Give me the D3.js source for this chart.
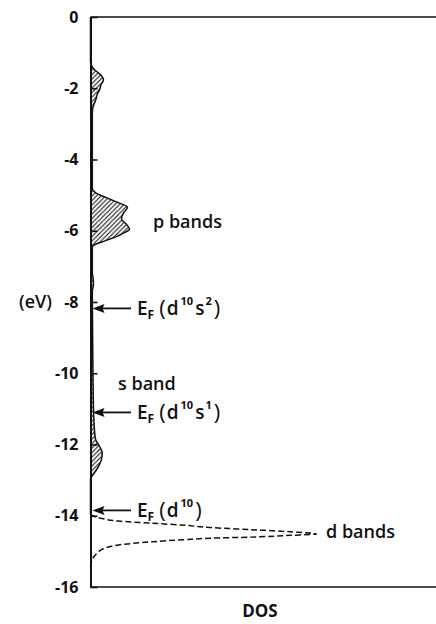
<!DOCTYPE html>
<html>
<head>
<meta charset="utf-8">
<script src="https://cdn.jsdelivr.net/npm/d3@7"></script>
<style>
  html, body { margin: 0; padding: 0; background: #fff; }
  svg { display: block; }
  text { font-family: "Open Sans", Lato, sans-serif; font-weight: 600; fill: #111; }
</style>
</head>
<body>
<svg id="chart" width="436" height="624"></svg>
<script>
// Energy axis ticks (eV)
const tickValues = [0, -2, -4, -6, -8, -10, -12, -14, -16];

// Occupied s/p density of states (hatched), energy in eV vs DOS in arbitrary units
const valenceE = [0, -1.25, -1.32, -1.45, -1.55, -1.65, -1.77, -1.9, -2.05, -2.15, -2.3, -2.45, -2.6, -2.8,
  -4.8, -4.88, -4.95, -5.05, -5.17, -5.34, -5.5, -5.67, -5.82, -5.96, -6.08, -6.15, -6.29, -6.38, -6.45,
  -7.2, -7.3, -7.5, -7.7, -8.5, -10, -11, -11.6, -11.85, -12.05, -12.23, -12.42, -12.6, -12.75, -12.88, -12.95, -13.96];
const valenceDOS = [0, 0, 0.05, 0.3, 0.7, 1.1, 1.3, 1.05, 0.9, 0.7, 0.55, 0.35, 0.2, 0.18,
  0.18, 0.3, 0.6, 1.4, 2.4, 3.7, 3.3, 3.1, 3.6, 3.9, 3.2, 2.7, 1.4, 0.5, 0.18,
  0.18, 0.25, 0.3, 0.18, 0.2, 0.25, 0.3, 0.4, 0.5, 0.9, 1.17, 1.1, 0.83, 0.5, 0.17, 0, 0];

// d-band density of states (dashed)
const dBandE = [-13.96, -14.02, -14.08, -14.15, -14.21, -14.27, -14.33, -14.39, -14.45, -14.51,
  -14.55, -14.6, -14.63, -14.67, -14.73, -14.82, -14.9, -15.05, -15.24, -15.45];
const dBandDOS = [0, 0.4, 1.17, 2.8, 6.2, 9.5, 12, 16, 20, 22.6,
  20, 16, 12, 9.5, 6.2, 2.8, 1.5, 0.67, 0.17, 0];

// Fermi levels for the three configurations
const fermiE = [-8.18, -11.1, -13.85];
const fermiSup = [["10", "2"], ["10", "1"], ["10"]];

const svg = d3.select("#chart");

const y = d3.scaleLinear().domain([0, -16]).range([17, 587]);
const x = d3.scaleLinear().domain([0, 34.6]).range([90.5, 436.5]);

// hatch pattern
const defs = svg.append("defs");
const pat = defs.append("pattern")
  .attr("id", "hatch").attr("patternUnits", "userSpaceOnUse")
  .attr("width", 4.5).attr("height", 4.5);
pat.append("path")
  .attr("d", "M0,4.5 L4.5,0 M-1,1 L1,-1 M3.5,5.5 L5.5,3.5")
  .attr("stroke", "#111").attr("stroke-width", 1.1);

// frame: top and bottom edges
svg.append("line").attr("x1", x(0)).attr("x2", 436).attr("y1", y(0)).attr("y2", y(0))
  .attr("stroke", "#111").attr("stroke-width", 1.6);
svg.append("line").attr("x1", x(0)).attr("x2", 436).attr("y1", y(-16)).attr("y2", y(-16))
  .attr("stroke", "#111").attr("stroke-width", 1.6);

// energy axis
const axis = d3.axisLeft(y).tickValues(tickValues).tickSizeInner(-7).tickSizeOuter(0)
  .tickPadding(12).tickFormat(d => d === 0 ? "0" : "-" + Math.abs(d));
const gAxis = svg.append("g").attr("transform", `translate(${x(0)},0)`).call(axis);
gAxis.select(".domain").attr("stroke", "#111").attr("stroke-width", 2);
gAxis.selectAll(".tick line").attr("stroke", "#111").attr("stroke-width", 1.6);
gAxis.selectAll(".tick text")
  .style("font-family", "'Open Sans', Lato, sans-serif")
  .style("font-size", "16px").style("font-weight", "700").attr("fill", "#111");

// hatched s/p DOS
const valence = valenceE.map((e, i) => ({ e, d: valenceDOS[i] }));
const area = d3.area().curve(d3.curveMonotoneY)
  .y(p => y(p.e)).x0(x(0)).x1(p => x(p.d));
const line = d3.line().curve(d3.curveMonotoneY).y(p => y(p.e)).x(p => x(p.d));
svg.append("path").datum(valence).attr("d", area).attr("fill", "url(#hatch)");
svg.append("path").datum(valence).attr("d", line)
  .attr("fill", "none").attr("stroke", "#111").attr("stroke-width", 1.5);

// dashed d-band DOS
const dBand = dBandE.map((e, i) => ({ e, d: dBandDOS[i] }));
svg.append("path").datum(dBand).attr("d", line)
  .attr("fill", "none").attr("stroke", "#111").attr("stroke-width", 1.5)
  .attr("stroke-dasharray", "6,3");

// Fermi-level arrows and labels
fermiE.forEach((e, i) => {
  const yy = y(e);
  const tip = x(0) + 2;
  svg.append("line").attr("x1", tip + 8).attr("x2", 131).attr("y1", yy).attr("y2", yy)
    .attr("stroke", "#111").attr("stroke-width", 1.8);
  svg.append("path")
    .attr("d", `M${tip},${yy} L${tip + 12},${yy - 4.5} L${tip + 10},${yy} L${tip + 12},${yy + 4.5} Z`)
    .attr("fill", "#111");

  const t = svg.append("text").attr("x", 137).attr("y", yy + 7).style("font-size", "19px");
  t.append("tspan").text("E");
  t.append("tspan").attr("dy", 4).style("font-size", "12px").style("font-weight", "700").text("F");
  t.append("tspan").attr("dx", 5).attr("dy", -3).style("font-size", "22px").style("font-weight", "400").text("(");
  t.append("tspan").attr("dx", 1).attr("dy", -1).text("d");
  const sup = fermiSup[i];
  t.append("tspan").attr("dx", 2).attr("dy", -10).style("font-size", "11px").style("font-weight", "700").text(sup[0]);
  if (sup.length > 1) {
    t.append("tspan").attr("dx", 2).attr("dy", 10).text("s");
    t.append("tspan").attr("dx", 1).attr("dy", -10).style("font-size", "11px").style("font-weight", "700").text(sup[1]);
  }
  t.append("tspan").attr("dx", 2).attr("dy", 11).style("font-size", "22px").style("font-weight", "400").text(")");
});

// band labels
svg.append("text").attr("x", 153).attr("y", y(-5.75) + 6).style("font-size", "18px").text("p bands");
svg.append("text").attr("x", 118).attr("y", y(-10.3) + 6).style("font-size", "18px").text("s band");
svg.append("text").attr("x", 326).attr("y", y(-14.45) + 6).style("font-size", "18px").text("d bands");

// axis titles
svg.append("text").attr("x", 19).attr("y", y(-8) + 6).style("font-size", "18px").text("(eV)");
svg.append("text").attr("x", 260).attr("y", 617).attr("text-anchor", "middle")
  .style("font-size", "17px").style("font-weight", "700").text("DOS");
</script>
</body>
</html>
